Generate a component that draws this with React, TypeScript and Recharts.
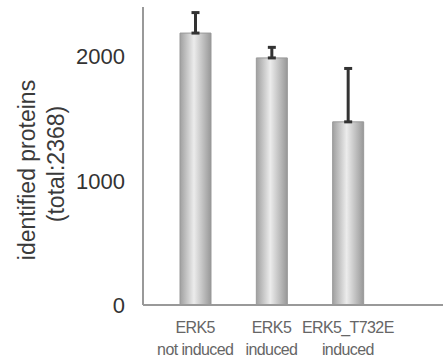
import { Bar, BarChart, ErrorBar, XAxis, YAxis, Label } from "recharts";

const categories = [
  ["ERK5", "not induced"],
  ["ERK5", "induced"],
  ["ERK5_T732E", "induced"],
];
const proteins = [2190, 1990, 1475];
const errorUp = [165, 85, 430];
const yTicks = [0, 1000, 2000];
const yLabel = ["identified proteins", "(total:2368)"];

const data = categories.map((c, i) => ({
  name: c.join("\n"),
  value: proteins[i],
  err: [0, errorUp[i]],
}));

const XTick = ({ x, y, payload }: any) => {
  const lines = String(payload.value).split("\n");
  return (
    <g>
      {lines.map((l, i) => (
        <text
          key={i}
          x={x}
          y={y + 20 + i * 22}
          textAnchor="middle"
          fill="#666"
          fontSize={16}
          fontFamily="Liberation Sans, Arial, sans-serif"
          letterSpacing={-0.6}
        >
          {l}
        </text>
      ))}
    </g>
  );
};

const YLabel = ({ viewBox }: any) => {
  const cy = viewBox.y + viewBox.height / 2 + 14;
  return (
    <g>
      {yLabel.map((l, i) => {
        const x = 35 + i * 29;
        return (
          <text
            key={i}
            x={x}
            y={cy - i * 6}
            transform={`rotate(-90 ${x} ${cy - i * 6})`}
            textAnchor="middle"
            fill="#3a3a3a"
            fontSize={23}
            fontFamily="Liberation Sans, Arial, sans-serif"
          >
            {l}
          </text>
        );
      })}
    </g>
  );
};

export default function App() {
  return (
    <div style={{ position: "absolute", left: 0, top: 0, background: "#fff" }}>
      <BarChart
        width={448}
        height={363}
        data={data}
        margin={{ top: 7, right: 5, bottom: 8, left: 0 }}
        barSize={31}
      >
        <defs>
          <linearGradient id="barGrad" x1="0" y1="0" x2="1" y2="0">
            <stop offset="0%" stopColor="#a0a0a0" />
            <stop offset="45%" stopColor="#ececec" />
            <stop offset="100%" stopColor="#989898" />
          </linearGradient>
        </defs>
        <XAxis
          dataKey="name"
          height={50}
          interval={0}
          tick={<XTick />}
          tickLine={false}
          axisLine={{ stroke: "#999", strokeWidth: 2 }}
          padding={{ left: 14, right: 57 }}
        />
        <YAxis
          width={143}
          domain={[0, 2400]}
          ticks={yTicks}
          tickLine={false}
          axisLine={{ stroke: "#999", strokeWidth: 2 }}
          tick={{
            fill: "#333",
            fontSize: 22,
            fontFamily: "Liberation Sans, Arial, sans-serif",
            dx: -10,
          }}
        >
          <Label content={<YLabel />} />
        </YAxis>
        <Bar
          dataKey="value"
          fill="url(#barGrad)"
          stroke="#999"
          strokeWidth={1}
          isAnimationActive={false}
        >
          <ErrorBar
            dataKey="err"
            width={4}
            stroke="#333"
            strokeWidth={3}
            direction="y"
          />
        </Bar>
      </BarChart>
    </div>
  );
}
